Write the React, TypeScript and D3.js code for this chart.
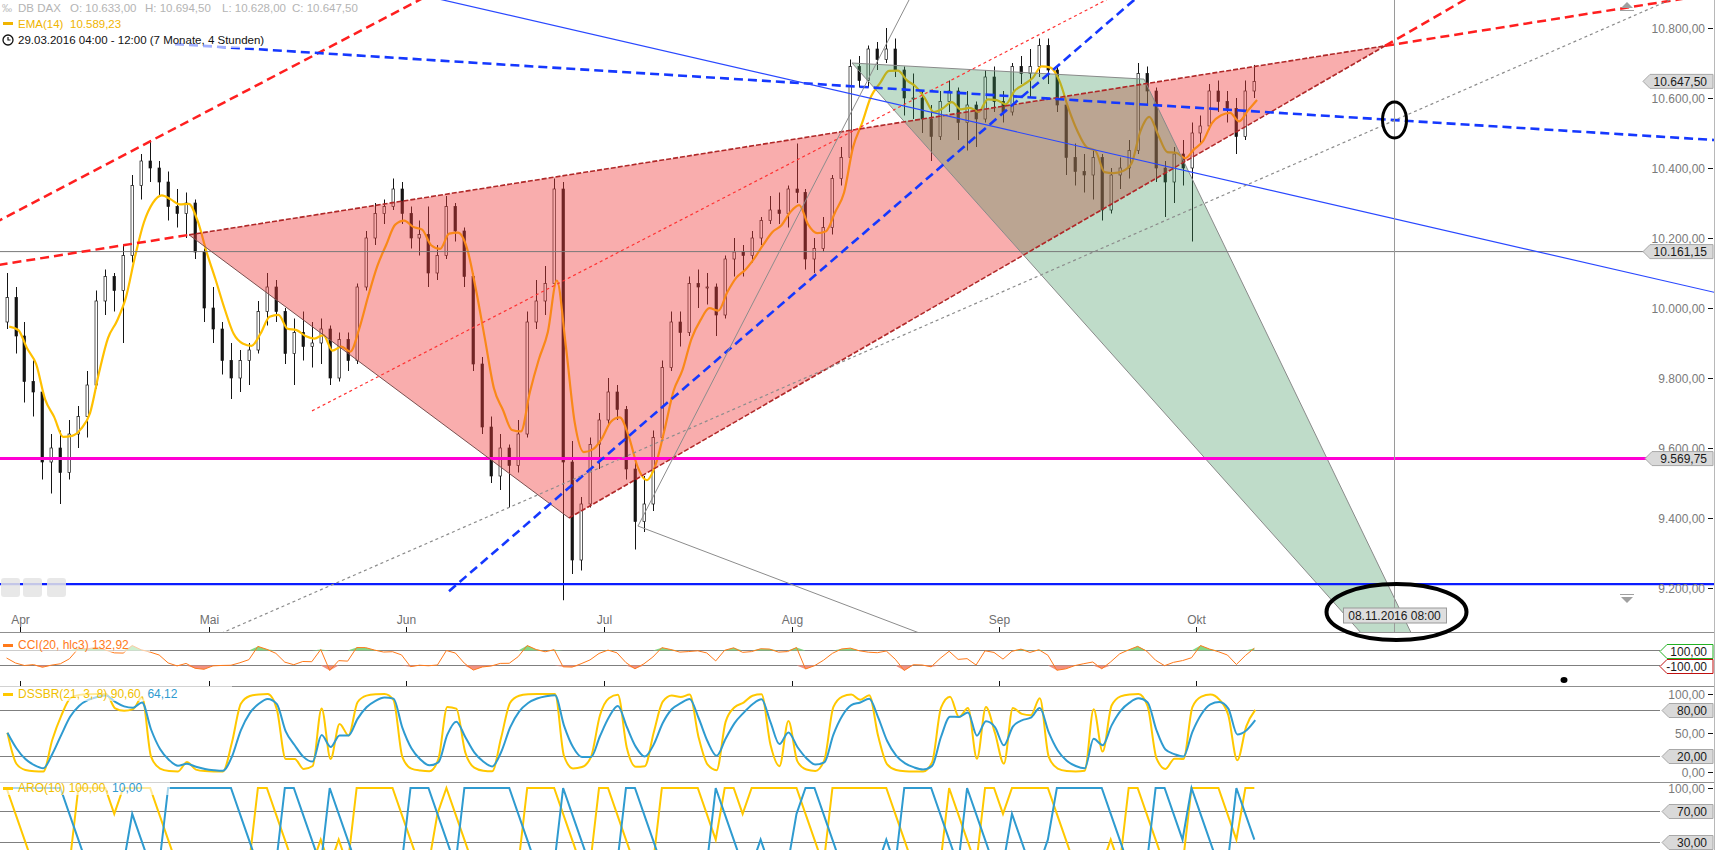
import { useEffect, useRef } from "react";
import * as d3 from "d3";

// DB DAX 4h chart (30.03.2016 - 11.10.2016), read back as one bar per trading day
const opens = [
  9960, 10030, 9920, 9790, 9760, 9560, 9600, 9530, 9640, 9690,
  9780, 10020, 10090, 10050, 10150, 10350, 10420, 10400, 10360, 10290,
  10270, 10300, 10160, 10000, 9940, 9850, 9800, 9850, 9880, 9990,
  10060, 9990, 9870, 9930, 9890, 9900, 9940, 9800, 9910, 9850,
  10060, 10200, 10270, 10290, 10340, 10270, 10200, 10210, 10100, 10150,
  10290, 10220, 10090, 9840, 9660, 9520, 9600, 9550, 9640, 9960,
  10020, 10070, 10340, 9560, 9280, 9440, 9610, 9680, 9760, 9710,
  9540, 9390, 9440, 9630, 9830, 9960, 9930, 10070, 10060, 10060,
  9980, 10140, 10160, 10150, 10200, 10250, 10280, 10270, 10340, 10330,
  10140, 10170, 10230, 10370, 10430, 10690, 10650, 10740, 10710, 10740,
  10680, 10600, 10600, 10540, 10490, 10590, 10620, 10530, 10580, 10540,
  10660, 10590, 10560, 10690, 10670, 10690, 10750, 10680, 10580, 10430,
  10390, 10380, 10430, 10280, 10380, 10400, 10450, 10670, 10620, 10400,
  10360, 10440, 10400, 10500, 10520, 10620, 10590, 10570, 10490, 10620,
];
const highs = [
  10100, 10060, 9960, 9850, 9770, 9640, 9650, 9680, 9720, 9820,
  10050, 10110, 10100, 10180, 10380, 10440, 10480, 10420, 10390, 10340,
  10330, 10310, 10170, 10060, 9960, 9900, 9880, 9900, 10020, 10100,
  10080, 10000, 9970, 9990, 9960, 9970, 9950, 9930, 9930, 10070,
  10220, 10300, 10310, 10370, 10360, 10290, 10250, 10290, 10180, 10320,
  10300, 10230, 10100, 9860, 9690, 9640, 9610, 9680, 9990, 10080,
  10120, 10370, 10360, 9620, 9460, 9630, 9700, 9800, 9780, 9720,
  9560, 9520, 9650, 9850, 9990, 9990, 10090, 10110, 10100, 10070,
  10150, 10200, 10180, 10220, 10260, 10320, 10330, 10350, 10470, 10340,
  10200, 10260, 10380, 10460, 10710, 10720, 10750, 10760, 10800, 10770,
  10690, 10670, 10620, 10580, 10620, 10650, 10630, 10620, 10590, 10680,
  10690, 10620, 10700, 10720, 10740, 10770, 10770, 10690, 10590, 10470,
  10440, 10450, 10440, 10400, 10430, 10480, 10700, 10690, 10630, 10420,
  10460, 10480, 10530, 10550, 10640, 10650, 10620, 10600, 10650, 10694.5,
];
const lows = [
  9940, 9870, 9730, 9690, 9510, 9470, 9440, 9510, 9600, 9630,
  9770, 9980, 9990, 9900, 10130, 10310, 10360, 10320, 10250, 10230,
  10200, 10140, 9960, 9900, 9810, 9740, 9760, 9780, 9870, 9950,
  9960, 9840, 9780, 9850, 9830, 9840, 9780, 9790, 9820, 9840,
  10050, 10180, 10240, 10280, 10240, 10170, 10150, 10060, 10080, 10140,
  10190, 10060, 9820, 9640, 9500, 9480, 9430, 9530, 9630, 9940,
  9980, 10060, 9165, 9240, 9250, 9430, 9540, 9660, 9680, 9510,
  9310, 9360, 9420, 9620, 9820, 9890, 9920, 10000, 10010, 9920,
  9970, 10090, 10090, 10130, 10180, 10240, 10240, 10230, 10300, 10110,
  10100, 10160, 10210, 10350, 10420, 10630, 10630, 10680, 10700, 10660,
  10550, 10540, 10500, 10420, 10480, 10560, 10480, 10450, 10460, 10530,
  10560, 10530, 10550, 10640, 10600, 10660, 10640, 10560, 10380, 10350,
  10330, 10310, 10250, 10270, 10340, 10370, 10440, 10580, 10360, 10260,
  10300, 10350, 10190, 10470, 10510, 10560, 10530, 10440, 10480, 10600,
];
const closes = [
  10030, 9920, 9790, 9760, 9560, 9600, 9530, 9640, 9690, 9780,
  10020, 10090, 10050, 10150, 10350, 10420, 10400, 10360, 10290, 10270,
  10300, 10160, 10000, 9940, 9850, 9800, 9850, 9880, 9990, 10060,
  9990, 9870, 9930, 9890, 9900, 9940, 9800, 9910, 9850, 10060,
  10200, 10270, 10290, 10340, 10270, 10200, 10210, 10100, 10150, 10290,
  10220, 10090, 9840, 9660, 9520, 9600, 9550, 9640, 9960, 10020,
  10070, 10340, 9560, 9280, 9440, 9610, 9680, 9760, 9710, 9540,
  9390, 9440, 9630, 9830, 9960, 9930, 10070, 10060, 10060, 9980,
  10140, 10160, 10150, 10200, 10250, 10280, 10270, 10340, 10330, 10140,
  10170, 10230, 10370, 10430, 10690, 10650, 10740, 10710, 10740, 10680,
  10600, 10600, 10540, 10490, 10590, 10620, 10530, 10580, 10540, 10660,
  10590, 10560, 10690, 10670, 10690, 10750, 10680, 10580, 10430, 10390,
  10380, 10430, 10280, 10380, 10400, 10450, 10670, 10620, 10400, 10360,
  10440, 10400, 10500, 10520, 10620, 10590, 10570, 10490, 10620, 10647.5,
];

const monthNames = ["Apr", "Mai", "Jun", "Jul", "Aug", "Sep", "Okt"];
const priceTicks = [9200, 9400, 9600, 9800, 10000, 10200, 10400, 10600, 10800];

// drawing tool anchors as [trading day index, price]
const pinkTriangle = [[20.83, 10209], [63.16, 9400], [154.06, 10749]];
const greenTriangle = [[94.68, 10700], [127.21, 10654], [163.52, 8723]];
const redChannel = [[-0.23, 10251], [44.33, 10851]];
const redDotted = [[34.53, 9706], [122.98, 10880]];
const blueDashShallow = [[19.27, 10754], [190.7, 10480]];
const blueDashSteep = [[49.79, 9191], [126.1, 10880]];
const blueSolid = [[49.12, 10880], [191.04, 10043]];
const grayUp = [[70.84, 9377], [101.03, 10880]];
const grayDown = [[70.84, 9377], [101.92, 9074]];
const grayDotted = [[24.72, 9074], [164.64, 10643]];

const magentaLevel = 9569.75;
const blueLevel = 9211;
const grayLevel = 10161.15;
const lastPrice = 10647.5;
const markerDay = 155.06;
const markerLabel = "08.11.2016 08:00";

const W = 1717;
const H = 850;
const RIGHT = 1714;
const FONT = "'Liberation Sans', Arial, sans-serif";

function ema(values, alpha, seed = values[0]) {
  let e = seed;
  return values.map((v) => (e = e + alpha * (v - e)));
}

export default function App() {
  const svgRef = useRef(null);

  useEffect(() => {
    if (!svgRef.current) return;
    const svg = d3.select(svgRef.current);
    svg.selectAll("*").remove();

    const de = d3.formatLocale({ decimal: ",", thousands: ".", grouping: [3], currency: ["", ""] });
    const fmt = de.format(",.2f");

    // trading days (weekdays) starting 30.03.2016
    const dates = [];
    for (let d = new Date(2016, 2, 30); dates.length < closes.length; d = d3.timeDay.offset(d, 1)) {
      if (d.getDay() % 6 !== 0) dates.push(d);
    }
    const monthStarts = dates
      .map((d, i) => (i > 0 && d.getMonth() !== dates[i - 1].getMonth() ? i : -1))
      .filter((i) => i >= 0);

    const x = d3.scaleLinear().domain([2, 133]).range([20, 1196]);
    const y = d3.scaleLinear().domain([9200, 10800]).range([588, 28]);

    const defs = svg.append("defs");
    const clip = (id, y0, y1) =>
      defs.append("clipPath").attr("id", id).append("rect").attr("x", 0).attr("y", y0).attr("width", RIGHT).attr("height", y1 - y0);
    clip("cMain", 0, 632);
    clip("cCci", 633, 686);
    clip("cDss", 687, 782);
    clip("cAro", 783, 850);

    svg.append("rect").attr("width", W).attr("height", H).attr("fill", "#fff");

    const main = svg.append("g").attr("clip-path", "url(#cMain)");

    // candles
    const idx = d3.range(closes.length);
    const cx = (i) => Math.round(x(i + 0.5)) + 0.5;
    const cg = main.append("g");
    cg.selectAll("line")
      .data(idx)
      .join("line")
      .attr("x1", cx)
      .attr("x2", cx)
      .attr("y1", (i) => y(highs[i]))
      .attr("y2", (i) => y(lows[i]))
      .attr("stroke", "#151515")
      .attr("stroke-width", 1);
    cg.selectAll("rect")
      .data(idx)
      .join("rect")
      .attr("x", (i) => cx(i) - 1.5)
      .attr("width", 2.5)
      .attr("y", (i) => y(Math.max(opens[i], closes[i])))
      .attr("height", (i) => Math.max(1, Math.abs(y(opens[i]) - y(closes[i]))))
      .attr("fill", (i) => (closes[i] >= opens[i] ? "#fff" : "#151515"))
      .attr("stroke", "#151515")
      .attr("stroke-width", 0.7);

    // EMA(14) of the 4h bars, on daily closes
    const emaVals = ema(closes, 0.36, 9900);
    main
      .append("path")
      .attr("d", d3.line().curve(d3.curveMonotoneX)(emaVals.map((v, i) => [x(i + 0.8), y(v)])))
      .attr("fill", "none")
      .attr("stroke", "#ffc000")
      .attr("stroke-width", 2.2);

    const pt = (p) => [x(p[0]), y(p[1])];
    const along = (p1, p2, k) => p1[1] + ((p2[1] - p1[1]) * (k - p1[0])) / (p2[0] - p1[0]);
    const seg = (p1, p2, k0, k1, stroke, width, dash) =>
      main
        .append("line")
        .attr("x1", x(k0))
        .attr("y1", y(along(p1, p2, k0)))
        .attr("x2", x(k1))
        .attr("y2", y(along(p1, p2, k1)))
        .attr("stroke", stroke)
        .attr("stroke-width", width)
        .attr("stroke-dasharray", dash);

    // triangles
    main
      .append("path")
      .attr("d", d3.line()(pinkTriangle.map(pt)) + "Z")
      .attr("fill", "rgba(240,60,60,0.42)")
      .attr("stroke", "none");
    main
      .append("path")
      .attr("d", d3.line()(greenTriangle.map(pt)) + "Z")
      .attr("fill", "rgba(60,150,90,0.33)")
      .attr("stroke", "#8a8a8a")
      .attr("stroke-width", 1);

    // horizontal levels
    const hLine = (v, stroke, width, x2) =>
      main.append("line").attr("x1", 0).attr("x2", x2).attr("y1", y(v)).attr("y2", y(v)).attr("stroke", stroke).attr("stroke-width", width);
    hLine(grayLevel, "#7a7a7a", 1, 1650);
    hLine(magentaLevel, "#ff00d4", 3, 1650);
    hLine(blueLevel, "#0a1cff", 2.2, RIGHT);

    const [A, B, C] = pinkTriangle;
    const redThick = "#ff1f1f";
    const dashThick = "9,5";
    // pink triangle edges and extensions
    seg(A, B, A[0], B[0], "#7a5050", 1, null);
    seg(A, C, A[0], C[0], "#b02828", 1.6, "5,2");
    seg(B, C, B[0], C[0], "#b02828", 1.6, "5,2");
    seg(A, C, -5, A[0], redThick, 2.5, dashThick);
    seg(A, C, C[0], 220, redThick, 2.5, dashThick);
    seg(B, C, C[0], 220, redThick, 2.5, dashThick);
    seg(redChannel[0], redChannel[1], -5, 220, redThick, 2.5, dashThick);
    seg(redDotted[0], redDotted[1], redDotted[0][0], 220, "#ff3333", 1.2, "3,3");

    // blue lines
    seg(blueDashShallow[0], blueDashShallow[1], blueDashShallow[0][0], 220, "#1538ff", 2.6, dashThick);
    seg(blueDashSteep[0], blueDashSteep[1], blueDashSteep[0][0], 220, "#1538ff", 2.6, dashThick);
    seg(blueSolid[0], blueSolid[1], -5, 220, "#2a48ff", 1.2, null);

    // gray lines
    seg(grayUp[0], grayUp[1], grayUp[0][0], 220, "#8c8c8c", 1, null);
    seg(grayDown[0], grayDown[1], grayDown[0][0], grayDown[1][0] + 1, "#8c8c8c", 1, null);
    seg(grayDotted[0], grayDotted[1], -5, 220, "#8c8c8c", 1.2, "3,3");

    // vertical marker
    const mx = Math.round(x(markerDay)) + 0.5;
    main.append("line").attr("x1", mx).attr("x2", mx).attr("y1", 0).attr("y2", 632).attr("stroke", "#9a9a9a").attr("stroke-width", 1);

    // header
    const hdr = svg.append("g").style("font-family", FONT).style("font-size", "11.5px");
    hdr.append("rect").attr("x", 0).attr("y", 0).attr("width", 366).attr("height", 16).attr("fill", "#fff").attr("opacity", 0.6);
    hdr.append("rect").attr("x", 0).attr("y", 16).attr("width", 126).attr("height", 15).attr("fill", "#fff").attr("opacity", 0.6);
    hdr.append("rect").attr("x", 0).attr("y", 31).attr("width", 280).attr("height", 17).attr("fill", "#fff").attr("opacity", 0.6);
    hdr.append("text").attr("x", 2).attr("y", 12).attr("fill", "#b8b8b8").style("font-size", "10px").text("‰");
    const hdrParts = [
      ["DB DAX", 18],
      ["O: 10.633,00", 70],
      ["H: 10.694,50", 145],
      ["L: 10.628,00", 222],
      ["C: 10.647,50", 292],
    ];
    hdrParts.forEach(([t, px]) => hdr.append("text").attr("x", px).attr("y", 12).attr("fill", "#b4b4b4").text(t));
    hdr.append("rect").attr("x", 3).attr("y", 22).attr("width", 10).attr("height", 3).attr("fill", "#f0b400");
    hdr.append("text").attr("x", 18).attr("y", 28).attr("fill", "#f0b400").text("EMA(14)");
    hdr.append("text").attr("x", 70).attr("y", 28).attr("fill", "#f0b400").text("10.589,23");
    hdr.append("circle").attr("cx", 8).attr("cy", 40).attr("r", 5).attr("fill", "none").attr("stroke", "#111").attr("stroke-width", 1.3);
    hdr.append("path").attr("d", "M8,37 V40 H10.5").attr("fill", "none").attr("stroke", "#111").attr("stroke-width", 1.2);
    hdr.append("text").attr("x", 18).attr("y", 44).attr("fill", "#111").text("29.03.2016 04:00 - 12:00 (7 Monate, 4 Stunden)");

    // left bottom buttons
    [1, 23, 47].forEach((bx) => {
      svg.append("rect").attr("x", bx).attr("y", 578).attr("width", 19).attr("height", 19).attr("rx", 3).attr("fill", "#e4e4e4").attr("opacity", 0.85);
    });

    // separators & right border
    const axis = svg.append("g").style("font-family", FONT).style("font-size", "12px");
    [632.5, 686.5, 782.5].forEach((sy) =>
      axis.append("line").attr("x1", 0).attr("x2", RIGHT).attr("y1", sy).attr("y2", sy).attr("stroke", "#8f8f8f")
    );
    axis.append("line").attr("x1", RIGHT + 0.5).attr("x2", RIGHT + 0.5).attr("y1", 0).attr("y2", H).attr("stroke", "#b8b8b8");

    // month axis
    monthStarts.forEach((i, m) => {
      const tx = Math.round(x(i)) + 0.5;
      axis.append("line").attr("x1", tx).attr("x2", tx).attr("y1", 627).attr("y2", 632).attr("stroke", "#111");
      axis.append("line").attr("x1", tx).attr("x2", tx).attr("y1", 681).attr("y2", 686).attr("stroke", "#111");
      axis.append("text").attr("x", tx).attr("y", 624).attr("text-anchor", "middle").attr("fill", "#6f6f6f").text(monthNames[m]);
    });

    // price axis
    priceTicks.forEach((v) => {
      const ty = Math.round(y(v)) + 0.5;
      axis.append("text").attr("x", 1705).attr("y", ty + 4).attr("text-anchor", "end").attr("fill", "#7a7a7a").text(fmt(v));
      axis.append("line").attr("x1", 1708).attr("x2", 1713).attr("y1", ty).attr("y2", ty).attr("stroke", "#111");
    });

    const tag = (ty, text, tip, fill, stroke) => {
      const h = 7;
      axis
        .append("path")
        .attr("d", `M${tip},${ty} L${tip + 7},${ty - h} L${RIGHT - 1},${ty - h} L${RIGHT - 1},${ty + h} L${tip + 7},${ty + h} Z`)
        .attr("fill", fill)
        .attr("stroke", stroke);
      axis.append("text").attr("x", 1707).attr("y", ty + 4.5).attr("text-anchor", "end").attr("fill", "#1a1a1a").text(text);
    };
    tag(y(lastPrice), fmt(lastPrice), 1643, "#d9d9d9", "#a8a8a8");
    tag(y(grayLevel), fmt(grayLevel), 1643, "#d9d9d9", "#a8a8a8");
    tag(y(magentaLevel), fmt(magentaLevel), 1645, "#d9d9d9", "#a8a8a8");

    // scroll markers
    axis.append("path").attr("d", "M1621,8 L1627,2 L1633,8 Z").attr("fill", "#a0a0a0");
    axis.append("line").attr("x1", 1620).attr("x2", 1634).attr("y1", 10.5).attr("y2", 10.5).attr("stroke", "#a0a0a0");
    axis.append("line").attr("x1", 1620).attr("x2", 1634).attr("y1", 594.5).attr("y2", 594.5).attr("stroke", "#a0a0a0");
    axis.append("path").attr("d", "M1621,597 L1627,603 L1633,597 Z").attr("fill", "#a0a0a0");

    // ---------- CCI panel ----------
    const n = 5;
    const tp = closes.map((c, i) => (highs[i] + lows[i] + c) / 3);
    const cci = tp.map((v, i) => {
      const w = tp.slice(Math.max(0, i - n + 1), i + 1);
      const m = d3.mean(w);
      const md = d3.mean(w, (z) => Math.abs(z - m));
      return md ? (v - m) / (0.015 * md) : 0;
    });
    const yc = d3.scaleLinear().domain([-100, 100]).range([665.5, 650.5]);
    const cg2 = svg.append("g").attr("clip-path", "url(#cCci)");
    [100, -100].forEach((v) =>
      cg2.append("line").attr("x1", 0).attr("x2", 1660).attr("y1", yc(v)).attr("y2", yc(v)).attr("stroke", "#7f7f7f")
    );
    cg2.append("path")
      .attr("d", d3.area().x((d, i) => x(i + 0.5)).y0(yc(100)).y1((d) => yc(Math.max(100, d)))(cci))
      .attr("fill", "#84d884");
    cg2.append("path")
      .attr("d", d3.area().x((d, i) => x(i + 0.5)).y0(yc(-100)).y1((d) => yc(Math.min(-100, d)))(cci))
      .attr("fill", "#f29080");
    cg2.append("path")
      .attr("d", d3.line().x((d, i) => x(i + 0.5)).y((d) => yc(d))(cci))
      .attr("fill", "none")
      .attr("stroke", "#ff7a1a")
      .attr("stroke-width", 1);

    // ---------- DSSBR panel ----------
    const stoch = (vals, hi, lo, len) =>
      vals.map((v, i) => {
        const s = Math.max(0, i - len + 1);
        const hh = d3.max(hi.slice(s, i + 1));
        const ll = d3.min(lo.slice(s, i + 1));
        return hh === ll ? 50 : (100 * (v - ll)) / (hh - ll);
      });
    const s1 = ema(stoch(closes, highs, lows, 5), 0.8);
    const dss = ema(stoch(s1, s1, s1, 5), 0.8);
    const sig = ema(dss, 0.5);
    const yd = d3.scaleLinear().domain([0, 100]).range([771.5, 694]);
    const dg = svg.append("g").attr("clip-path", "url(#cDss)");
    [80, 20].forEach((v) =>
      dg.append("line").attr("x1", 0).attr("x2", 1660).attr("y1", Math.round(yd(v)) + 0.5).attr("y2", Math.round(yd(v)) + 0.5).attr("stroke", "#7f7f7f")
    );
    const dLine = d3.line().curve(d3.curveMonotoneX).x((d, i) => x(i + 0.6)).y((d) => yd(d));
    dg.append("path").attr("d", dLine(dss)).attr("fill", "none").attr("stroke", "#ffc800").attr("stroke-width", 2);
    dg.append("path").attr("d", dLine(sig)).attr("fill", "none").attr("stroke", "#2f9bd0").attr("stroke-width", 2);

    // ---------- Aroon panel ----------
    const an = 3;
    const aroon = (arr, better) =>
      arr.map((_, i) => {
        const s = Math.max(0, i - an);
        let b = s;
        for (let j = s; j <= i; j++) if (better(arr[j], arr[b])) b = j;
        return (100 * (an - (i - b))) / an;
      });
    const aroUp = aroon(highs, (a, b) => a >= b);
    const aroDn = aroon(lows, (a, b) => a <= b);
    const ya = d3.scaleLinear().domain([0, 100]).range([865.5, 788]);
    const ag = svg.append("g").attr("clip-path", "url(#cAro)");
    [70, 30].forEach((v) =>
      ag.append("line").attr("x1", 0).attr("x2", 1660).attr("y1", Math.round(ya(v)) + 0.5).attr("y2", Math.round(ya(v)) + 0.5).attr("stroke", "#7f7f7f")
    );
    const aLine = d3.line().x((d, i) => x(i + 0.5)).y((d) => ya(d));
    ag.append("path").attr("d", aLine(aroUp)).attr("fill", "none").attr("stroke", "#ffc800").attr("stroke-width", 2);
    ag.append("path").attr("d", aLine(aroDn)).attr("fill", "none").attr("stroke", "#2f9bd0").attr("stroke-width", 2);

    // indicator labels
    const lab = svg.append("g").style("font-family", FONT).style("font-size", "12px");
    const indLabel = (ly, w, color, parts) => {
      lab.append("rect").attr("x", 0).attr("y", ly - 8).attr("width", w).attr("height", 15).attr("fill", "#fff").attr("opacity", 0.6);
      lab.append("rect").attr("x", 3).attr("y", ly - 1).attr("width", 10).attr("height", 3).attr("fill", color);
      const t = lab.append("text").attr("x", 18).attr("y", ly + 4);
      parts.forEach(([s, c]) => t.append("tspan").attr("fill", c).text(s));
    };
    indLabel(645, 150, "#ff7a1a", [["CCI(20, hlc3)  132,92", "#ff7a1a"]]);
    indLabel(694, 232, "#ffc800", [["DSSBR(21, 3, 8)  90,60,  ", "#f0c000"], ["64,12", "#2f9bd0"]]);
    indLabel(788, 170, "#ffc800", [["ARO(10)  100,00,  ", "#f0c000"], ["10,00", "#2f9bd0"]]);

    // indicator axis labels
    tag(Math.round(yc(100)) + 0.5, "100,00", 1660, "#fff", "#22b022");
    tag(Math.round(yc(-100)) + 0.5, "-100,00", 1660, "#fff", "#c01010");
    const plain = (ty, text) => {
      axis.append("text").attr("x", 1705).attr("y", ty + 4).attr("text-anchor", "end").attr("fill", "#7a7a7a").text(text);
      axis.append("line").attr("x1", 1708).attr("x2", 1713).attr("y1", ty).attr("y2", ty).attr("stroke", "#111");
    };
    plain(Math.round(yd(100)) + 0.5, "100,00");
    plain(Math.round(yd(50)) + 0.5, "50,00");
    plain(Math.round(yd(0)) + 0.5, "0,00");
    tag(Math.round(yd(80)) + 0.5, "80,00", 1662, "#d9d9d9", "#a8a8a8");
    tag(Math.round(yd(20)) + 0.5, "20,00", 1662, "#d9d9d9", "#a8a8a8");
    plain(Math.round(ya(100)) + 0.5, "100,00");
    tag(Math.round(ya(70)) + 0.5, "70,00", 1662, "#d9d9d9", "#a8a8a8");
    tag(Math.round(ya(30)) + 0.5, "30,00", 1662, "#d9d9d9", "#a8a8a8");

    // marker label + annotations
    const ann = svg.append("g").style("font-family", FONT).style("font-size", "12px");
    ann.append("rect").attr("x", mx - 51).attr("y", 608).attr("width", 103).attr("height", 15).attr("fill", "#dedede").attr("stroke", "#9a9a9a");
    ann.append("text").attr("x", mx).attr("y", 619.5).attr("text-anchor", "middle").attr("fill", "#1a1a1a").text(markerLabel);
    ann.append("ellipse").attr("cx", mx + 2).attr("cy", 612).attr("rx", 70).attr("ry", 28).attr("fill", "none").attr("stroke", "#000").attr("stroke-width", 4);
    ann.append("ellipse").attr("cx", mx).attr("cy", y(along(blueDashShallow[0], blueDashShallow[1], markerDay))).attr("rx", 12).attr("ry", 18).attr("fill", "none").attr("stroke", "#000").attr("stroke-width", 3);
    ann.append("ellipse").attr("cx", 1564).attr("cy", 680).attr("rx", 3.5).attr("ry", 3).attr("fill", "#000");
  }, []);

  return (
    <svg
      ref={svgRef}
      width={W}
      height={H}
      style={{ position: "absolute", left: 0, top: 0, background: "#fff", fontFamily: FONT }}
    />
  );
}
